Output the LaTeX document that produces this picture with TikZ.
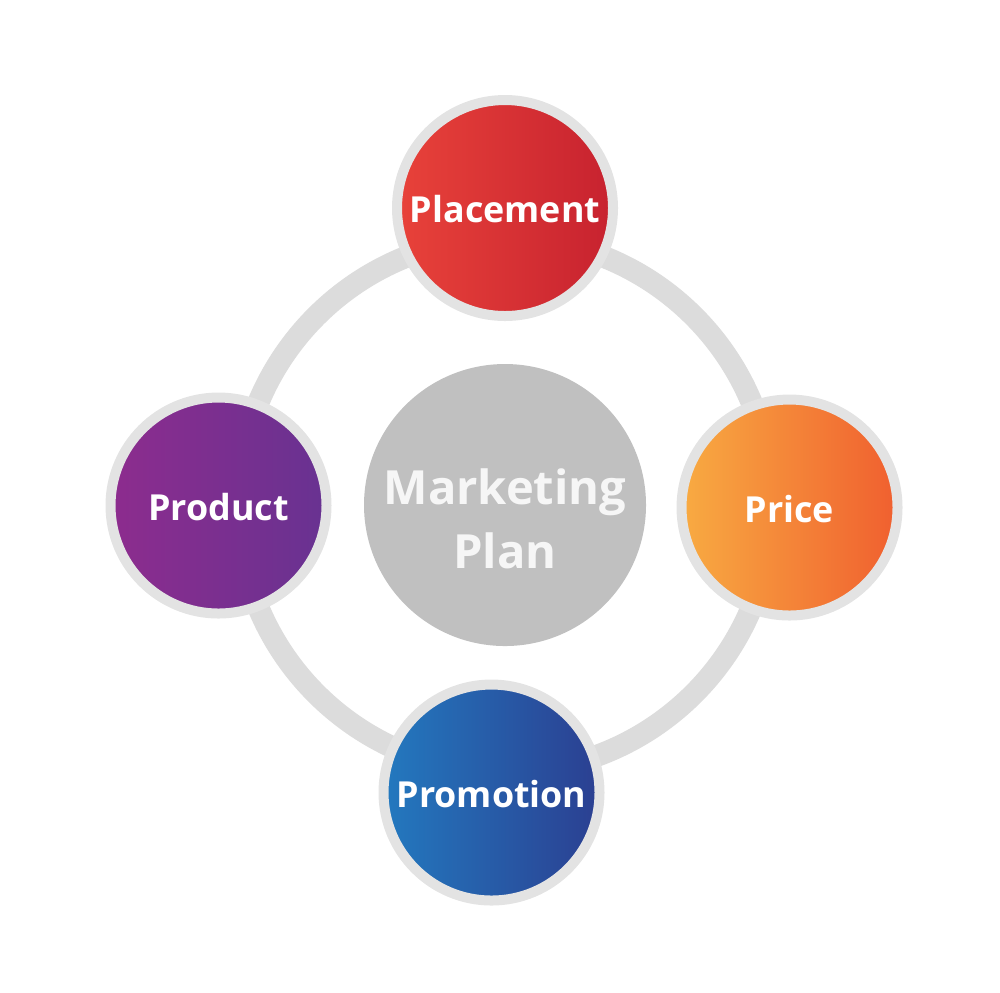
\documentclass[tikz,border=0pt]{standalone}
\usepackage{fontspec}
\setmainfont{Open Sans}
\definecolor{ringgray}{HTML}{DCDCDC}
\definecolor{rimgray}{HTML}{E3E3E3}
\definecolor{hubgray}{HTML}{C0C0C0}
\definecolor{hubtext}{HTML}{F6F6F6}
\definecolor{placeL}{HTML}{E8423A}
\definecolor{placeR}{HTML}{C7222F}
\definecolor{prodL}{HTML}{8D2C8E}
\definecolor{prodR}{HTML}{683291}
\definecolor{priceL}{HTML}{F8AB42}
\definecolor{priceR}{HTML}{F05F2F}
\definecolor{promoL}{HTML}{2379BF}
\definecolor{promoR}{HTML}{2B3F91}
\begin{document}
\begin{tikzpicture}[
  part/.style={circle, draw=rimgray, line width=1mm, minimum size=2.16cm, inner sep=0pt,
    text=white, font=\fontsize{10.2}{12}\selectfont\bfseries, text height=8.5pt, text depth=0pt},
  hub/.style={circle, fill=hubgray, minimum size=2.82cm, inner sep=0pt},
  hubtitle/.style={align=center, text=hubtext, font=\fontsize{13.4}{18.2}\selectfont\bfseries}
]
\useasboundingbox (0,0) rectangle (10,-9.92);
\coordinate (c) at (5.05,-5.05);
\draw[ringgray, line width=2.2mm] (c) circle (2.67cm);

\node[hub] (mp) at (c) {};
\node[hubtitle] (mpt) at (5.05,-5.19) {Marketing\\Plan};

\node[part, left color=placeL, right color=placeR] (pl) at (5.05,-2.08) {Placement};
\node[part, left color=priceL, right color=priceR] (pr) at (7.895,-5.075) {Price};
\node[part, left color=promoL, right color=promoR] (pm) at (4.915,-7.925) {Promotion};
\node[part, left color=prodL, right color=prodR] (pd) at (2.185,-5.055) {Product};
\end{tikzpicture}
\end{document}
